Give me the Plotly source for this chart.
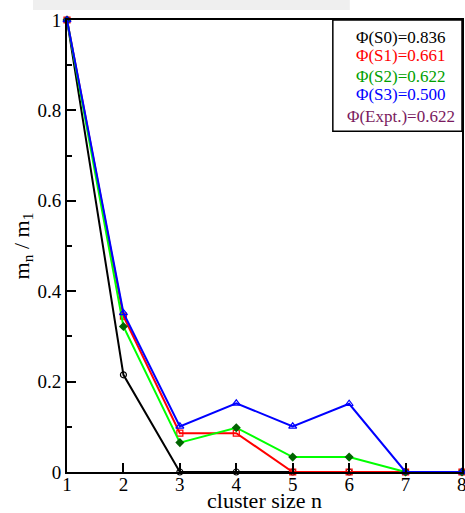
import plotly.graph_objects as go

n = [1, 2, 3, 4, 5, 6, 7, 8]
s0 = [1.0, 0.215, 0.0, 0.0, 0.0, 0.0, 0.0, 0.0]
s1 = [1.0, 0.345, 0.086, 0.086, 0.0, 0.0, 0.0, 0.0]
s2 = [1.0, 0.322, 0.065, 0.098, 0.033, 0.033, 0.0, 0.0]
s3 = [1.0, 0.352, 0.101, 0.152, 0.101, 0.151, 0.0, 0.0]

legend_lines = ["Φ(S0)=0.836", "Φ(S1)=0.661", "Φ(S2)=0.622", "Φ(S3)=0.500", "Φ(Expt.)=0.622"]
legend_colors = ["#000000", "#ff0000", "#00a000", "#0000ff", "#7a1a5e"]
legend_y = [0.962, 0.922, 0.875, 0.835, 0.786]

FONT = "Liberation Serif, Times New Roman, serif"

fig = go.Figure()
series = [
    (s0, "#000000", dict(symbol="circle-open", size=6, color="#000000", line=dict(width=1.2))),
    (s1, "#ff0000", dict(symbol="square-open", size=6, color="#ff0000", line=dict(width=1.2))),
    (s2, "#00ff00", dict(symbol="diamond", size=7, color="#006400")),
    (s3, "#0000ff", dict(symbol="triangle-up-open", size=7, color="#0000ff", line=dict(width=1.2))),
]
for ys, col, mk in series:
    fig.add_trace(go.Scatter(x=n, y=ys, mode="lines+markers",
                             line=dict(color=col, width=2), marker=mk,
                             cliponaxis=False, showlegend=False))

for txt, col, yy in zip(legend_lines, legend_colors, legend_y):
    fig.add_annotation(xref="paper", yref="paper", x=0.846, y=yy, text=txt,
                       showarrow=False, xanchor="center", yanchor="middle",
                       font=dict(family=FONT, size=17, color=col))

# last x tick label (partly outside the page, as in the reference)
fig.add_annotation(xref="x", yref="paper", x=n[-1], y=0, yshift=0, text=str(n[-1]),
                   showarrow=False, xanchor="center", yanchor="top",
                   font=dict(family=FONT, size=19, color="black"))

fig.add_shape(type="rect", xref="paper", yref="paper", x0=0.673, x1=1.0, y0=0.754, y1=1.0,
              line=dict(color="black", width=1.5), fillcolor="rgba(0,0,0,0)")
fig.add_shape(type="rect", xref="paper", yref="paper", x0=-0.086, x1=0.716, y0=1.022, y1=1.05,
              line=dict(width=0), fillcolor="#efefef", layer="below")

axis_common = dict(showline=True, mirror=True, linecolor="black", linewidth=2,
                   ticks="inside", tickcolor="black", tickwidth=1.5, ticklen=9,
                   showgrid=False, zeroline=False, automargin=False,
                   tickfont=dict(family=FONT, size=19, color="black"))

fig.update_xaxes(range=[1, 8], tick0=1, dtick=1, ticklabelstandoff=-6,
                 title=dict(text="cluster size n", font=dict(family=FONT, size=22, color="black"), standoff=3),
                 **axis_common)
fig.update_yaxes(range=[0, 1], tick0=0, dtick=0.2, tickformat="~g",
                 minor=dict(dtick=0.1, ticks="inside", ticklen=5, tickcolor="black", tickwidth=1.5),
                 title=dict(text="m<sub>n</sub> / m<sub>1</sub>", font=dict(family=FONT, size=22, color="black"), standoff=2),
                 **axis_common)

fig.update_layout(width=465, height=513, margin=dict(l=67, r=3, t=20, b=41),
                  paper_bgcolor="white", plot_bgcolor="white",
                  font=dict(family=FONT, color="black"))

fig.write_html("out.html")
